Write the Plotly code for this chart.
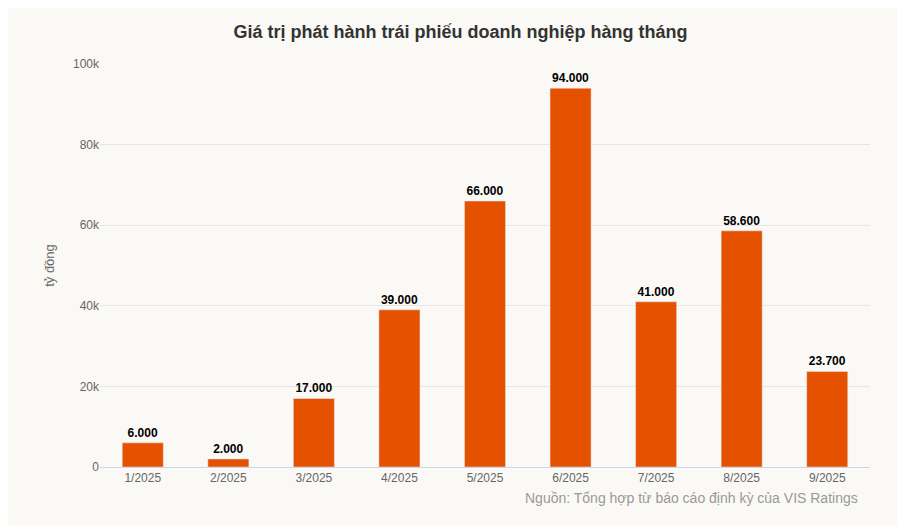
import plotly.graph_objects as go

categories = ["1/2025","2/2025","3/2025","4/2025","5/2025","6/2025","7/2025","8/2025","9/2025"]
values = [6000, 2000, 17000, 39000, 66000, 94000, 41000, 58600, 23700]
labels = ["6.000","2.000","17.000","39.000","66.000","94.000","41.000","58.600","23.700"]

fig = go.Figure(go.Bar(x=categories, y=values, text=labels, textposition="outside",
                       marker_color="#e65100", width=0.48, cliponaxis=False,
                       textfont=dict(family="Arial, Liberation Sans", size=12, color="#000000")))
fig.update_traces(texttemplate="<b>%{text}</b>")
fig.update_layout(
    width=905, height=525, paper_bgcolor="#faf9f6", plot_bgcolor="#faf9f6",
    margin=dict(l=92, r=43, t=56, b=66),
    title=dict(text="<b>Giá trị phát hành trái phiếu doanh nghiệp hàng tháng</b>", x=0.5, y=0.954,
               xanchor="center", yanchor="middle",
               font=dict(family="Arial, Liberation Sans", size=18, color="#333333")),
    font=dict(family="Arial, Liberation Sans", color="#666666", size=12),
    showlegend=False,
    yaxis=dict(range=[0, 100000], tickvals=[0,20000,40000,60000,80000,100000],
               ticktext=["0","20k","40k","60k","80k","100k"], gridcolor="#e6e6e6",
               title=dict(text="tỷ đồng", font=dict(size=13, color="#666666")), zeroline=False),
    xaxis=dict(showline=True, linecolor="#ccd6eb", ticks="", tickfont=dict(color="#666666")),
    annotations=[dict(text="Nguồn: Tổng hợp từ báo cáo định kỳ của VIS Ratings", xref="paper", yref="paper",
                      x=0.987, y=-0.077, xanchor="right", yanchor="middle", showarrow=False,
                      font=dict(size=14, color="#999999"))],
)
fig.write_html("out.html")
